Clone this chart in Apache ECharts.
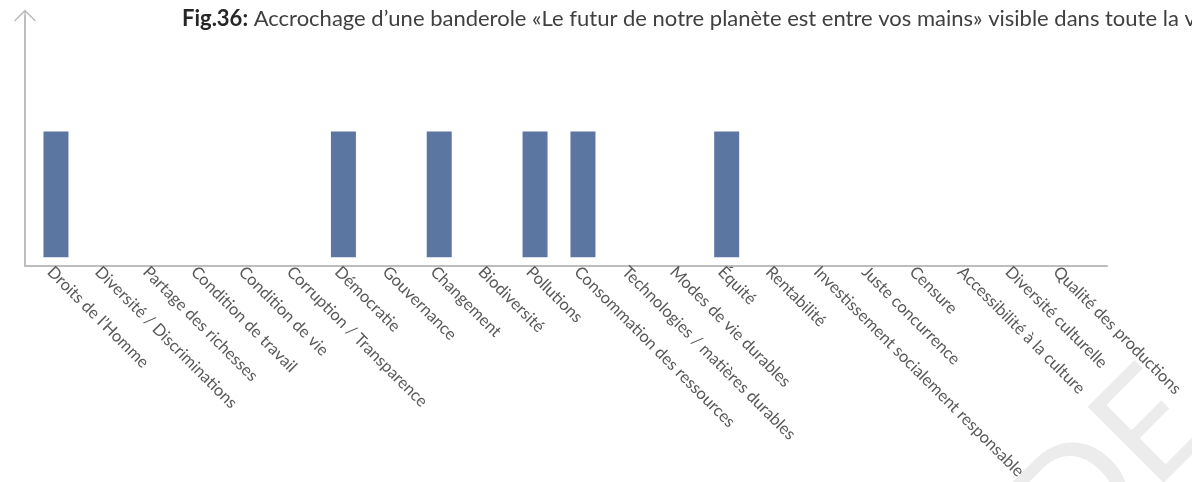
<!DOCTYPE html>
<html>
<head>
<meta charset="utf-8">
<script src="https://cdn.jsdelivr.net/npm/echarts@6/dist/echarts.min.js"></script>
<style>
  html, body { margin: 0; padding: 0; background: #fff; }
  #chart { width: 1192px; height: 482px; }
</style>
</head>
<body>
<div id="chart"></div>
<script>
// thèmes cités
var categories = [
  'Droits de l’Homme', 'Diversité / Discriminations', 'Partage des richesses',
  'Condition de travail', 'Condition de vie', 'Corruption / Transparence',
  'Démocratie', 'Gouvernance', 'Changement', 'Biodiversité', 'Pollutions',
  'Consommation des ressources', 'Technologies / matières durables',
  'Modes de vie durables', 'Équité', 'Rentabilité',
  'Investissement socialement responsable', 'Juste concurrence', 'Censure',
  'Accessibilité à la culture', 'Diversité culturelle', 'Qualité des productions'
];
var values = [1, 0, 0, 0, 0, 0, 1, 0, 1, 0, 1, 1, 0, 0, 1, 0, 0, 0, 0, 0, 0, 0];

var titleBold = 'Fig.36:';
var titleText = ' Accrochage d’une banderole «Le futur de notre planète est entre vos mains» visible dans toute la ville';

var chart = echarts.init(document.getElementById('chart'));
var axisGray = '#bdbdbd';
var yMax = 1.92;

var option = {
  animation: false,
  title: {
    text: '{b|' + titleBold + '}' + titleText,
    left: 177,
    top: 3,
    textStyle: {
      fontFamily: 'Lato',
      fontSize: 22,
      fontWeight: 'normal',
      color: '#404040',
      rich: {
        b: { fontFamily: 'Lato', fontSize: 22, fontWeight: 'bold', color: '#262626' }
      }
    }
  },
  graphic: [{
    type: 'text',
    x: 1110,
    y: 468,
    rotation: Math.PI / 4,
    z: -10,
    style: {
      text: 'DE',
      fontFamily: 'Lato',
      fontSize: 150,
      fill: '#ececec',
      align: 'center',
      verticalAlign: 'middle'
    }
  }],
  grid: [
    { left: 32, top: 16, width: 1054, height: 250 },   // barres
    { left: 25, top: 16, width: 1082, height: 250 }    // traits des axes
  ],
  xAxis: [
    {
      type: 'category',
      gridIndex: 0,
      data: categories,
      axisLine: { show: false },
      axisTick: { show: false },
      axisLabel: {
        interval: 0,
        rotate: -45,
        margin: 6,
        verticalAlign: 'top',
        fontFamily: 'Lato',
        fontSize: 16.5,
        color: '#595959'
      }
    },
    {
      type: 'value',
      gridIndex: 1,
      min: 0, max: 1,
      axisLine: { show: true, onZero: false, lineStyle: { color: axisGray, width: 2 } },
      axisTick: { show: false },
      axisLabel: { show: false },
      splitLine: { show: false }
    }
  ],
  yAxis: [
    { type: 'value', gridIndex: 0, min: 0, max: yMax, show: false },
    {
      type: 'value',
      gridIndex: 1,
      min: 0, max: yMax,
      axisLine: {
        show: true,
        onZero: false,
        symbol: ['none', 'path://M11,0 L22,11 L20.9,12.1 L11.7,2.9 L11.7,13 L10.3,13 L10.3,2.9 L1.1,12.1 L0,11 Z'],
        symbolSize: [22, 13],
        lineStyle: { color: axisGray, width: 2 }
      },
      axisTick: { show: false },
      axisLabel: { show: false },
      splitLine: { show: false }
    }
  ],
  series: [{
    type: 'bar',
    xAxisIndex: 0,
    yAxisIndex: 0,
    data: values,
    barWidth: 25,
    itemStyle: { color: '#5b77a1' }
  }]
};
chart.setOption(option);
</script>
</body>
</html>
